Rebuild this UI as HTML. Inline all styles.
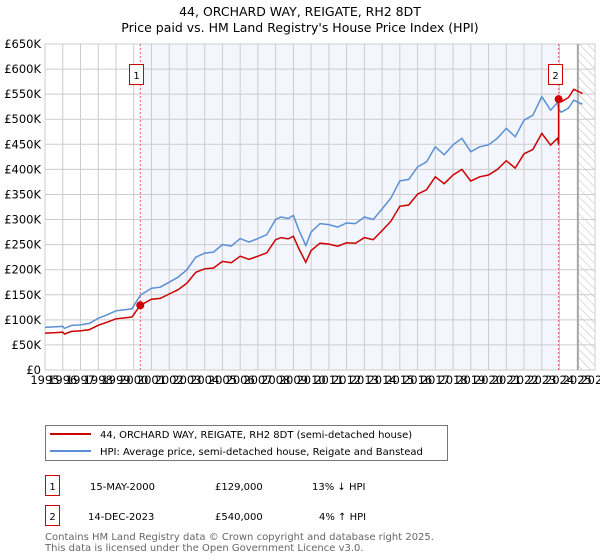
<!DOCTYPE html>
<html><head><meta charset="utf-8">
<style>
body{margin:0;background:#fff;font-family:"DejaVu Sans","Liberation Sans",sans-serif;}
#wrap{position:relative;width:600px;height:560px;overflow:hidden;}
svg text{font-family:"DejaVu Sans","Liberation Sans",sans-serif;}
</style></head>
<body>
<div id="wrap">
<svg id="chart" width="600" height="560">
<defs>
<pattern id="hatch" width="6" height="6" patternUnits="userSpaceOnUse" patternTransform="rotate(-45)">
<line x1="0" y1="0" x2="0" y2="6" stroke="#bbb" stroke-width="1"/>
</pattern>
</defs>
<text x="300" y="16" text-anchor="middle" font-size="12.5" fill="#000">44, ORCHARD WAY, REIGATE, RH2 8DT</text>
<text x="300" y="32" text-anchor="middle" font-size="12.5" fill="#000">Price paid vs. HM Land Registry's House Price Index (HPI)</text>
<g id="plot"></g>
<g>
<rect x="45.5" y="425.5" width="402" height="35" fill="#fff" stroke="#777"/>
<line x1="50" y1="434" x2="91" y2="434" stroke="#cc0000" stroke-width="2"/>
<text x="100" y="438" font-size="10">44, ORCHARD WAY, REIGATE, RH2 8DT (semi-detached house)</text>
<line x1="50" y1="451" x2="91" y2="451" stroke="#5b8fd6" stroke-width="2"/>
<text x="100" y="455" font-size="10">HPI: Average price, semi-detached house, Reigate and Banstead</text>
</g>
<g>
<rect x="45.5" y="475.5" width="14" height="20" fill="#fff" stroke="#cc0000"/>
<text x="52.5" y="490" text-anchor="middle" font-size="10">1</text>
<text x="90" y="490" font-size="10">15-MAY-2000</text>
<text x="215" y="490" font-size="10">£129,000</text>
<text x="312" y="490" font-size="10">13% ↓ HPI</text>
</g>
<g>
<rect x="45.5" y="505.5" width="14" height="20" fill="#fff" stroke="#cc0000"/>
<text x="52.5" y="520" text-anchor="middle" font-size="10">2</text>
<text x="88" y="520" font-size="10">14-DEC-2023</text>
<text x="215" y="520" font-size="10">£540,000</text>
<text x="319" y="520" font-size="10">4% ↑ HPI</text>
</g>
<text x="45" y="540" font-size="10" fill="#666">Contains HM Land Registry data © Crown copyright and database right 2025.</text>
<text x="45" y="551" font-size="10" fill="#666">This data is licensed under the Open Government Licence v3.0.</text>
</svg>
</div>
<script>
const hpiDates=[1995,1995.5,1996,1996.1,1996.5,1997,1997.5,1998,1998.5,1999,1999.5,1999.9,2000.37,2001,2001.5,2002,2002.5,2003,2003.5,2004,2004.5,2005,2005.5,2006,2006.5,2007,2007.5,2008,2008.3,2008.7,2009,2009.3,2009.7,2010,2010.5,2011,2011.5,2012,2012.5,2013,2013.5,2014,2014.5,2015,2015.5,2016,2016.5,2017,2017.5,2018,2018.5,2019,2019.5,2020,2020.5,2021,2021.5,2022,2022.5,2023,2023.5,2023.9,2023.95,2024.1,2024.5,2024.8,2025.3];
const hpiValues=[85,86,87,83,89,90,93,103,110,118,120,122,149,163,165,175,185,200,225,233,235,250,247,262,255,262,270,300,305,302,308,280,248,275,292,290,285,293,292,305,300,321,343,377,380,405,415,445,429,449,462,435,445,449,462,482,465,498,508,545,518,534,519,514,522,538,530];
const saleDates=[2000.37,2023.95];
const salePrices=[129,540];
const saleLabels=["1","2"];
const yTicks=[0,50,100,150,200,250,300,350,400,450,500,550,600,650];
const yTickLabels=["£0","£50K","£100K","£150K","£200K","£250K","£300K","£350K","£400K","£450K","£500K","£550K","£600K","£650K"];
const xTicks=[1995,1996,1997,1998,1999,2000,2001,2002,2003,2004,2005,2006,2007,2008,2009,2010,2011,2012,2013,2014,2015,2016,2017,2018,2019,2020,2021,2022,2023,2024,2025,2026];
const dataEnd=2025.04;

const X0=45,X1=595,Y0=370,Y1=44;
const xs=d=>X0+(d-1995)/(2026-1995)*(X1-X0);
const ys=v=>Y0-v/650*(Y0-Y1);
const NS="http://www.w3.org/2000/svg";
const g=document.getElementById('plot');
function mk(t,a,p){const e=document.createElementNS(NS,t);for(const k in a)e.setAttribute(k,a[k]);(p||g).appendChild(e);return e;}

let e=mk('rect',{x:xs(saleDates[0]),y:Y1,width:xs(saleDates[1])-xs(saleDates[0]),height:Y0-Y1,fill:'#f3f6fd'});


e=mk('rect',{x:xs(dataEnd),y:Y1,width:X1-xs(dataEnd),height:Y0-Y1,fill:'url(#hatch)'});


yTicks.forEach((v,i)=>{
 mk('line',{x1:X0,x2:X1,y1:ys(v),y2:ys(v),stroke:'#ccc','stroke-width':1});
 e=mk('text',{x:X0-4,y:ys(v)+4,'text-anchor':'end','font-size':11.5});
 e.textContent=yTickLabels[i];
 
 
});
xTicks.forEach(d=>{
 mk('line',{x1:xs(d),x2:xs(d),y1:Y1,y2:Y0,stroke:'#ccc','stroke-width':1});
 e=mk('text',{x:xs(d),y:Y0+14,'text-anchor':'middle','font-size':11.5});
 e.textContent=d;
 
 
});
mk('rect',{x:X0,y:Y1,width:X1-X0,height:Y0-Y1,fill:'none',stroke:'#ccc'});
e=mk('line',{x1:xs(dataEnd),x2:xs(dataEnd),y1:Y1,y2:Y0,stroke:'#999','stroke-width':1.5});


saleDates.forEach((d,i)=>{
 e=mk('line',{x1:xs(d),x2:xs(d),y1:Y1,y2:Y0,stroke:'#e06060','stroke-width':1,'stroke-dasharray':'2,2'});
 
 
});
let pts=hpiDates.map((d,i)=>xs(d).toFixed(1)+','+ys(hpiValues[i]).toFixed(1)).join(' ');
e=mk('polyline',{points:pts,fill:'none',stroke:'#5b8fd6','stroke-width':1.5});


function hpiAt(d){for(let i=0;i<hpiDates.length-1;i++){if(d>=hpiDates[i]&&d<=hpiDates[i+1]){const t=(d-hpiDates[i])/(hpiDates[i+1]-hpiDates[i]);return hpiValues[i]+t*(hpiValues[i+1]-hpiValues[i]);}}return hpiValues[hpiValues.length-1];}
const f1=salePrices[0]/hpiAt(saleDates[0]), f2=salePrices[1]/hpiAt(saleDates[1]);
let rp=[];
hpiDates.forEach((d,i)=>{
 if(d<saleDates[1]) rp.push([d,hpiValues[i]*f1]);
 else { if(d===saleDates[1]){rp.push([d,hpiValues[i]*f1]);} rp.push([d,hpiValues[i]*f2]); }
});
e=mk('polyline',{points:rp.map(p=>xs(p[0]).toFixed(1)+','+ys(p[1]).toFixed(1)).join(' '),fill:'none',stroke:'#cc0000','stroke-width':1.5});


saleDates.forEach((d,i)=>{
 e=mk('circle',{cx:xs(d),cy:ys(salePrices[i]),r:4,fill:'#cc0000'});
 
 
 e=mk('rect',{x:Math.round(xs(d))-10.5,y:64.5,width:14,height:20,fill:'#fff',stroke:'#cc0000'});
 
 
 e=mk('text',{x:Math.round(xs(d))-3.5,y:79,'text-anchor':'middle','font-size':10});
 e.textContent=saleLabels[i];
 
 
});
</script>
</body></html>
